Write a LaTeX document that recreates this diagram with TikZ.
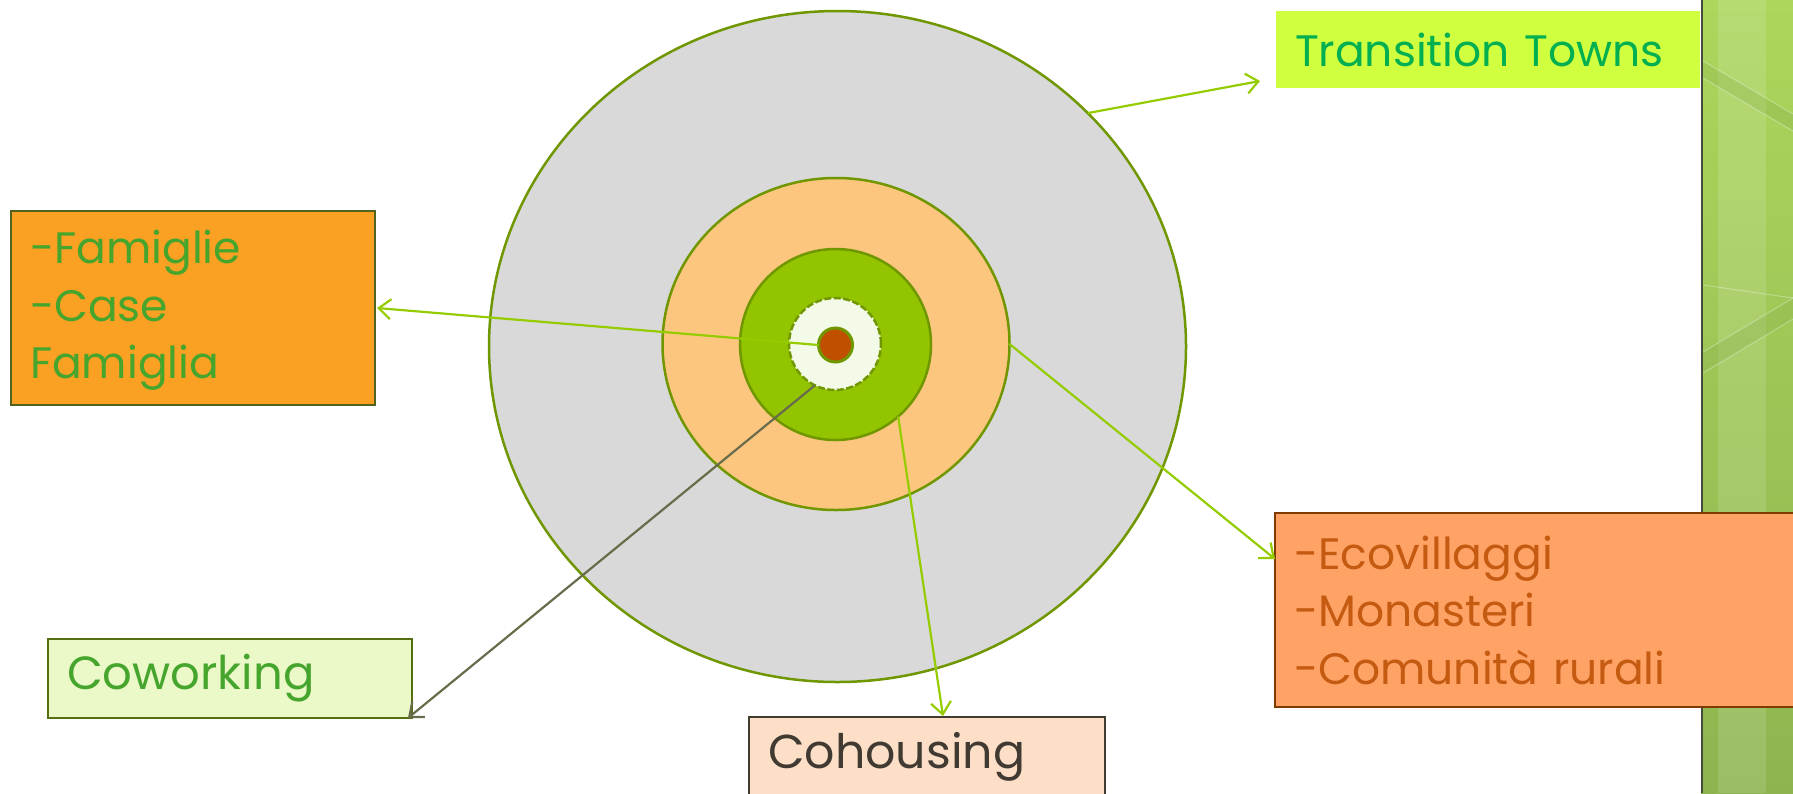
\documentclass[tikz,border=0pt]{standalone}
\usepackage{fontspec}
\setmainfont{Poppins}
\usetikzlibrary{shapes.geometric,arrows.meta}
\definecolor{ringline}{RGB}{112,150,0}
\definecolor{greyfill}{RGB}{217,217,217}
\definecolor{orangefill}{RGB}{252,198,126}
\definecolor{greenfill}{RGB}{146,197,0}
\definecolor{palefill}{RGB}{243,250,231}
\definecolor{redfill}{RGB}{192,80,0}
\definecolor{limeline}{RGB}{148,204,0}
\definecolor{oliveline}{RGB}{105,108,75}
\definecolor{ttfill}{RGB}{208,255,64}
\definecolor{tttext}{RGB}{0,176,80}
\definecolor{famfill}{RGB}{250,160,35}
\definecolor{famline}{RGB}{80,100,30}
\definecolor{famtext}{RGB}{70,165,45}
\definecolor{ecofill}{RGB}{255,162,101}
\definecolor{ecoline}{RGB}{128,60,0}
\definecolor{ecotext}{RGB}{197,90,17}
\definecolor{cowfill}{RGB}{235,249,200}
\definecolor{cowline}{RGB}{85,110,15}
\definecolor{cohfill}{RGB}{253,223,200}
\definecolor{cohline}{RGB}{64,60,50}
\definecolor{cohtext}{RGB}{64,58,50}
\definecolor{paneltop}{RGB}{172,214,92}
\definecolor{panelbot}{RGB}{142,180,80}
\definecolor{paneledge}{RGB}{70,75,60}
\begin{document}
\begin{tikzpicture}[x=1pt,y=-1pt,
  ring/.style={ellipse,draw=ringline,line width=2.5pt,inner sep=0pt,outer sep=0pt},
  labelbox/.style={rectangle,anchor=north west,inner xsep=19pt,inner ysep=0pt,outer sep=0pt,align=left,
    font=\fontsize{44}{57.5}\selectfont},
  conn/.style={line width=2.2pt,-{Straight Barb[length=12pt,width=20pt,line width=2.2pt]}}
  ]
\useasboundingbox (0,0) rectangle (1793,793);
% right decorative panel
\shade[top color=paneltop,bottom color=panelbot] (1701,0) rectangle (1793,793);
\fill[white,opacity=0.13] (1718,0) rectangle (1766,793);
\fill[panelbot,opacity=0.35] (1703,61) -- (1793,114) -- (1793,131) -- (1703,78) -- cycle;
\fill[panelbot,opacity=0.35] (1703,352) -- (1793,298) -- (1793,319) -- (1703,373) -- cycle;
\draw[white,opacity=0.3,line width=1pt] (1703,61) -- (1793,114);
\draw[white,opacity=0.3,line width=1pt] (1703,78) -- (1793,131);
\draw[white,opacity=0.3,line width=1pt] (1703,285) -- (1793,298);
\draw[white,opacity=0.3,line width=1pt] (1703,352) -- (1793,298);
\draw[white,opacity=0.3,line width=1pt] (1703,373) -- (1793,319);
\draw[paneledge,line width=2.5pt] (1702,0) -- (1702,793);
% concentric rings
\node[ring,fill=greyfill,minimum width=697pt,minimum height=671pt] (outer) at (837.5,346.5) {};
\node[ring,fill=orangefill,minimum width=347pt,minimum height=332pt] (mid) at (836,344) {};
\node[ring,fill=greenfill,minimum width=191pt,minimum height=191pt] (inner) at (835.5,344.5) {};
\node[ring,fill=palefill,dash pattern=on 7pt off 2.5pt,minimum width=92pt,minimum height=92pt] (core) at (835,344) {};
\node[ring,fill=redfill,line width=3pt,minimum width=34pt,minimum height=34pt] (dot) at (835.5,345) {};
% label boxes
\node[labelbox,fill=ttfill,text=tttext,minimum height=77pt,text width=386pt] (tt) at (1276,11) {Transition Towns};
\node[labelbox,fill=famfill,draw=famline,line width=1.5pt,text=famtext,minimum height=194pt,text width=326pt] (fam) at (11,211) {\rule{0pt}{38pt}-Famiglie\\-Case\\Famiglia};
\node[labelbox,fill=ecofill,draw=ecoline,line width=1.5pt,text=ecotext,minimum height=194pt,text width=502pt] (eco) at (1275,513) {-Ecovillaggi\\-Monasteri\\-Comunità rurali};
\node[labelbox,fill=cowfill,draw=cowline,line width=1.5pt,text=famtext,minimum height=79pt,text width=326pt,font=\fontsize{46.5}{57.5}\selectfont] (cow) at (48,639) {Coworking};
\node[labelbox,fill=cohfill,draw=cohline,line width=1.5pt,text=cohtext,minimum height=80pt,text width=318pt,font=\fontsize{47.5}{57.5}\selectfont] (coh) at (749,717) {Cohousing};
% arrow tips
\coordinate (ttend) at (1260,81);
\coordinate (famend) at (377,308);
\coordinate (ecoend) at (1275,559);
\coordinate (cohend) at (943,716);
\coordinate (cowend) at (408,718);
% connectors
\draw[conn,limeline] (outer.43.8) -- (ttend);
\draw[conn,limeline] (dot.west) -- (famend);
\draw[conn,limeline] (mid.east) -- (ecoend);
\draw[conn,limeline] (inner.-49) -- (cohend);
\draw[conn,oliveline] (core.-116) -- (cowend);
\end{tikzpicture}
\end{document}
